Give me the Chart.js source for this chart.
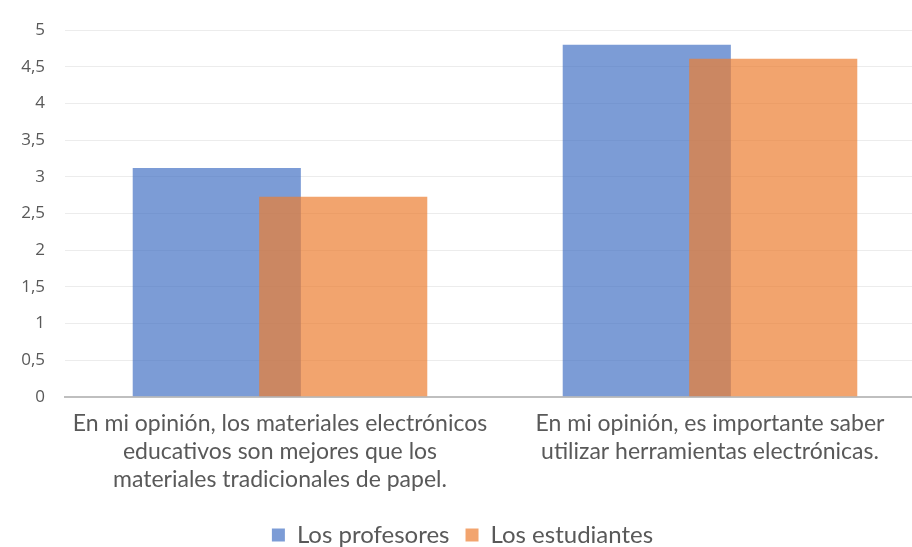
<!DOCTYPE html>
<html>
<head>
<meta charset="utf-8">
<script src="https://cdn.jsdelivr.net/npm/chart.js@4.4.1/dist/chart.umd.min.js"></script>
<style>
    html, body { margin: 0; padding: 0; background: #fff; overflow: hidden; }
    #wrap { width: 925px; height: 557px; }
</style>
</head>
<body>
<div id="wrap"><canvas id="opinionChart"></canvas></div>
<script>
const categories = [
    ['En mi opinión, los materiales electrónicos', 'educativos son mejores que los', 'materiales tradicionales de papel.'],
    ['En mi opinión, es importante saber', 'utilizar herramientas electrónicas.']
];
const seriesNames = ['Los profesores', 'Los estudiantes'];
const profesores = [3.12, 4.8];
const estudiantes = [2.73, 4.61];
const yTicks = [0, 0.5, 1, 1.5, 2, 2.5, 3, 3.5, 4, 4.5, 5];

const fmt = v => String(v).replace('.', ',');

// Chart.js paints dataset 0 last; paint the second series after the first
// instead, so the orange bars sit on top of the blue ones.
const orangeOnTop = {
    id: 'orangeOnTop',
    beforeDatasetDraw: (chart, args) => {
        if (args.index === 1) return false;
    },
    afterDatasetsDraw: chart => {
        chart.getDatasetMeta(1).controller.draw();
    }
};

document.addEventListener('DOMContentLoaded', () => {
    const ctx = document.querySelector('#opinionChart').getContext('2d');

    new Chart(ctx, {
        type: 'bar',
        data: {
            labels: categories,
            datasets: [{
                label: seriesNames[0],
                data: profesores,
                backgroundColor: 'rgba(68,114,196,0.7)',
                borderWidth: 0
            }, {
                label: seriesNames[1],
                data: estudiantes,
                backgroundColor: 'rgba(237,125,49,0.7)',
                borderWidth: 0
            }]
        },
        plugins: [orangeOnTop],
        options: {
            responsive: true,
            maintainAspectRatio: false,
            animation: false,
            categoryPercentage: 0.588,
            barPercentage: 1.33,
            layout: {
                padding: { top: 0, right: 0, left: 0, bottom: 0 }
            },
            plugins: {
                tooltip: { enabled: false },
                legend: {
                    position: 'bottom',
                    labels: {
                        boxWidth: 13,
                        boxHeight: 13,
                        padding: 16,
                        color: '#595959',
                        font: { family: 'Lato', size: 24 }
                    }
                }
            },
            scales: {
                x: {
                    grid: { display: false, drawTicks: false },
                    border: { color: '#bfbfbf', width: 2 },
                    ticks: {
                        color: '#595959',
                        padding: 13,
                        maxRotation: 0,
                        autoSkip: false,
                        font: { family: 'Lato', size: 23, lineHeight: 1.22 }
                    }
                },
                y: {
                    min: 0,
                    max: 5,
                    afterBuildTicks: axis => {
                        axis.ticks = yTicks.map(v => ({ value: v }));
                    },
                    afterFit: axis => {
                        axis.width = 65;
                    },
                    grid: { color: '#ececec', lineWidth: 1, drawTicks: false },
                    border: { display: false },
                    ticks: {
                        color: '#595959',
                        padding: 20,
                        font: { family: 'Open Sans', size: 17 },
                        callback: v => fmt(v)
                    }
                }
            }
        }
    });
});
</script>
</body>
</html>
